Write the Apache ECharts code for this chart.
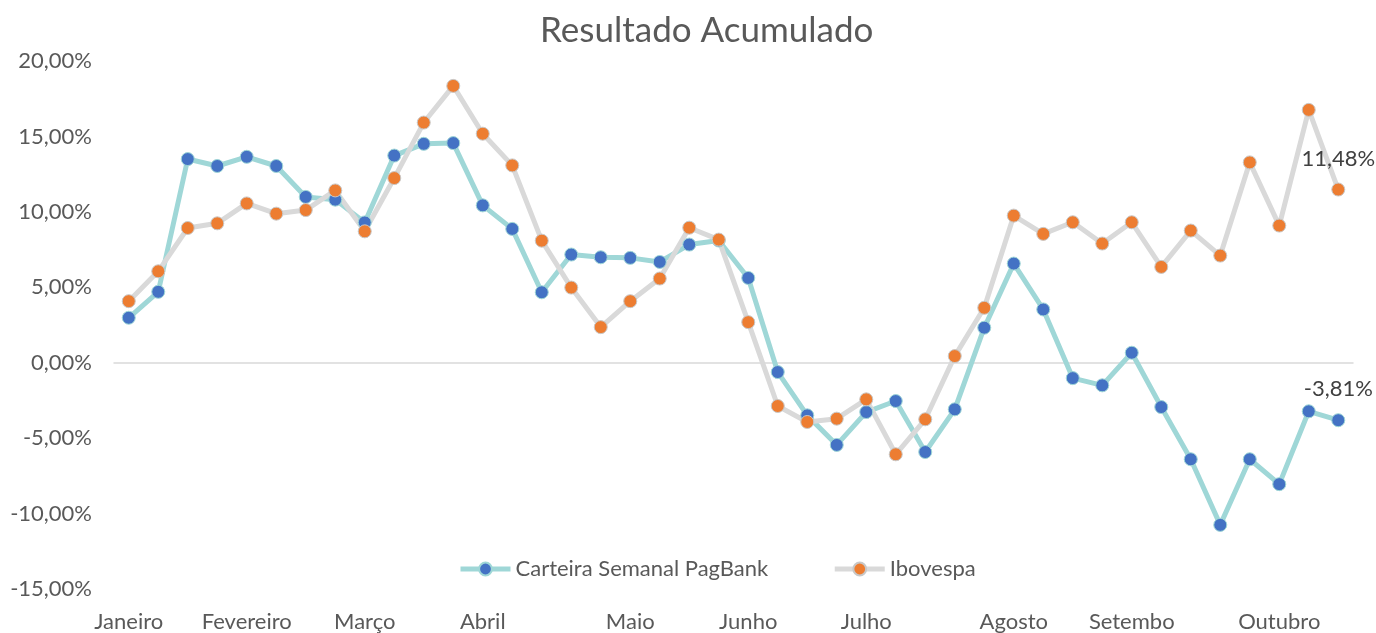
<!DOCTYPE html>
<html>
<head>
<meta charset="utf-8">
<script src="https://cdn.jsdelivr.net/npm/echarts@6/dist/echarts.min.js"></script>
<style>
html,body{margin:0;padding:0;background:#fff;}
#chart{width:1376px;height:633px;}
</style>
</head>
<body>
<div id="chart"></div>
<script>
// Weekly points (42)
const categories = ['1','2','3','4','5','6','7','8','9','10','11','12','13','14','15','16','17','18','19','20','21','22','23','24','25','26','27','28','29','30','31','32','33','34','35','36','37','38','39','40','41','42'];
const tickLabels = ['Janeiro','','','','Fevereiro','','','','Março','','','','Abril','','','','','Maio','','','','Junho','','','','Julho','','','','','Agosto','','','','Setembo','','','','','Outubro','',''];
const carteira = [2.98, 4.70, 13.50, 13.04, 13.65, 13.04, 10.99, 10.81, 9.30, 13.73, 14.51, 14.56, 10.43, 8.87, 4.67, 7.17, 6.99, 6.95, 6.68, 7.83, 8.10, 5.62, -0.62, -3.49, -5.45, -3.27, -2.54, -5.92, -3.09, 2.32, 6.57, 3.53, -1.02, -1.50, 0.66, -2.94, -6.40, -10.75, -6.40, -8.05, -3.22, -3.81];
const ibovespa = [4.08, 6.06, 8.93, 9.24, 10.56, 9.88, 10.12, 11.42, 8.71, 12.24, 15.92, 18.35, 15.18, 13.08, 8.09, 4.98, 2.36, 4.08, 5.58, 8.95, 8.16, 2.69, -2.87, -3.93, -3.71, -2.43, -6.07, -3.75, 0.44, 3.64, 9.75, 8.54, 9.31, 7.90, 9.31, 6.35, 8.76, 7.10, 13.28, 9.09, 16.76, 11.48];
const yTicks = {min: -15, max: 20, interval: 5};

const FONT = 'Lato';
const fmtPct = v => v.toFixed(2).replace('.', ',') + '%';

function withLastLabel(arr) {
  return arr.map((v, i) => i === arr.length - 1
    ? {value: v, label: {show: true}}
    : v);
}

const chart = echarts.init(document.getElementById('chart'), null, {renderer: 'canvas'});
chart.setOption({
  backgroundColor: '#ffffff',
  animation: false,
  title: {
    text: 'Resultado Acumulado',
    left: 535,
    top: 8,
    textStyle: {fontFamily: FONT, fontSize: 35, fontWeight: 'normal', color: '#595959'}
  },
  legend: {
    left: 453,
    top: 553,
    itemWidth: 50,
    itemHeight: 16,
    itemGap: 64,
    lineStyle: {width: 5},
    textStyle: {fontFamily: FONT, fontSize: 22, color: '#595959'},
    data: ['Carteira Semanal PagBank', 'Ibovespa']
  },
  grid: {left: 114, right: 23, top: 61, bottom: 43, containLabel: false},
  xAxis: [{
    type: 'category',
    data: categories,
    boundaryGap: true,
    axisLine: {show: false, onZero: false},
    axisTick: {show: false},
    splitLine: {show: false},
    axisLabel: {
      interval: 0,
      margin: 22,
      fontFamily: FONT, fontSize: 22, color: '#595959',
      formatter: (v, i) => tickLabels[i]
    }
  }, {
    type: 'category',
    data: categories,
    position: 'bottom',
    boundaryGap: true,
    axisLine: {show: true, onZero: true, lineStyle: {color: '#d9d9d9', width: 1.5}},
    axisTick: {show: false},
    axisLabel: {show: false},
    splitLine: {show: false}
  }],
  yAxis: {
    type: 'value',
    min: yTicks.min, max: yTicks.max, interval: yTicks.interval,
    axisLine: {show: false},
    axisTick: {show: false},
    splitLine: {show: false},
    axisLabel: {
      margin: 22,
      fontFamily: FONT, fontSize: 22, color: '#595959',
      formatter: v => fmtPct(v)
    }
  },
  series: [{
    name: 'Carteira Semanal PagBank',
    type: 'line',
    xAxisIndex: 0,
    data: withLastLabel(carteira),
    symbol: 'circle',
    symbolSize: 13,
    lineStyle: {color: '#9fd7d7', width: 5},
    itemStyle: {color: '#4472c4', borderColor: '#9fd7d7', borderWidth: 1},
    label: {
      show: false, position: 'top', distance: 13,
      fontFamily: FONT, fontSize: 22, color: '#404040',
      formatter: p => fmtPct(p.value)
    },
    emphasis: {disabled: true}
  }, {
    name: 'Ibovespa',
    type: 'line',
    xAxisIndex: 0,
    data: withLastLabel(ibovespa),
    symbol: 'circle',
    symbolSize: 13,
    lineStyle: {color: '#d9d9d9', width: 5},
    itemStyle: {color: '#ed7d31', borderColor: '#c8c8c8', borderWidth: 1},
    label: {
      show: false, position: 'top', distance: 13,
      fontFamily: FONT, fontSize: 22, color: '#404040',
      formatter: p => fmtPct(p.value)
    },
    emphasis: {disabled: true}
  }]
});
</script>
</body>
</html>
